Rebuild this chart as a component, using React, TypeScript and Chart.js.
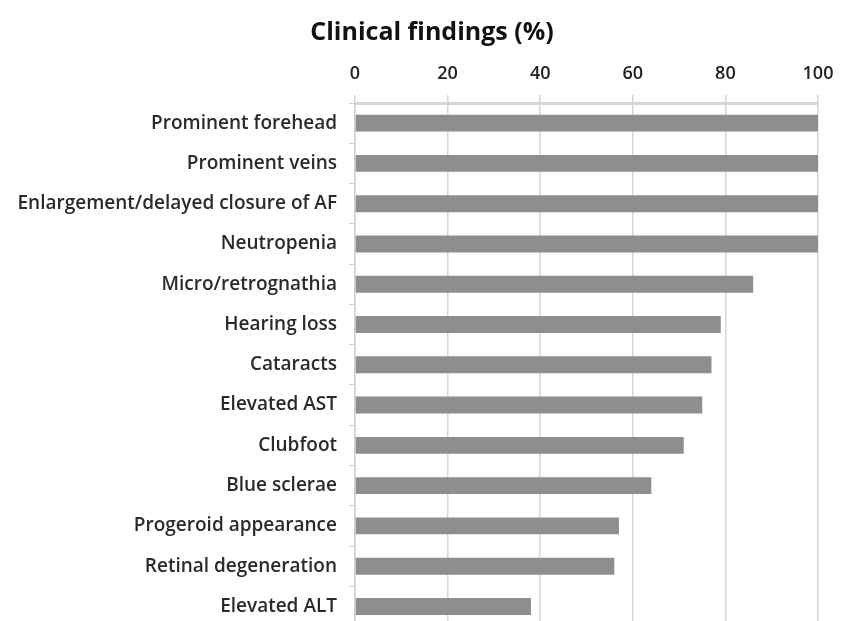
import React, { useEffect, useRef } from "react";
import { Chart, registerables } from "chart.js";

Chart.register(...registerables);

const categories = [
  "Prominent forehead",
  "Prominent veins",
  "Enlargement/delayed closure of AF",
  "Neutropenia",
  "Micro/retrognathia",
  "Hearing loss",
  "Cataracts",
  "Elevated AST",
  "Clubfoot",
  "Blue sclerae",
  "Progeroid appearance",
  "Retinal degeneration",
  "Elevated ALT",
];

const values = [100, 100, 100, 100, 86, 79, 77, 75, 71, 64, 57, 56, 38];

const xTicks = [0, 20, 40, 60, 80, 100];

const titleText = "Clinical findings (%)";

// let the long category labels use the left padding area instead of being clipped
const widenLabelArea = {
  id: "widenLabelArea",
  afterLayout(chart: any) {
    const y = chart.scales.y;
    if (y) y.left = 0;
  },
};

export default function App() {
  const ref = useRef<HTMLCanvasElement | null>(null);

  useEffect(() => {
    if (!ref.current) return;
    const chart = new Chart(ref.current, {
      type: "bar",
      data: {
        labels: categories,
        datasets: [
          {
            data: values,
            backgroundColor: "#8e8e8e",
            borderWidth: 0,
            categoryPercentage: 1,
            barPercentage: 0.42,
          },
        ],
      },
      options: {
        indexAxis: "y",
        animation: false,
        responsive: false,
        maintainAspectRatio: false,
        layout: { padding: { left: 46, right: 46, top: 0, bottom: 9 } },
        plugins: {
          legend: { display: false },
          tooltip: { enabled: false },
          title: {
            display: true,
            text: titleText,
            color: "#111111",
            font: { family: "Open Sans", size: 25, weight: "bold" },
            padding: { top: 18, bottom: 7 },
          },
        },
        scales: {
          x: {
            position: "top",
            min: 0,
            max: 100,
            afterBuildTicks: (scale: any) => {
              scale.ticks = xTicks.map((v) => ({ value: v }));
            },
            afterFit: (scale: any) => {
              scale.height = 48;
            },
            ticks: {
              color: "#222222",
              font: { family: "Open Sans", size: 18, weight: "600" },
              padding: 10,
            },
            grid: {
              color: "#d6d6d6",
              lineWidth: 1.5,
              tickLength: 8,
            },
            border: { display: true, color: "#d6d6d6", width: 3 },
          },
          y: {
            afterFit: (scale: any) => {
              scale.width = 309;
            },
            ticks: {
              color: "#2a2a2a",
              font: { family: "Open Sans", size: 19, weight: "600" },
              padding: 12,
            },
            grid: {
              drawOnChartArea: false,
              color: "#d0d0d0",
              tickLength: 6,
            },
            border: { display: true, color: "#d0d0d0", width: 1.5 },
          },
        },
      },
      plugins: [widenLabelArea],
    });
    return () => chart.destroy();
  }, []);

  return (
    <div style={{ position: "absolute", left: 0, top: 0, width: 864, height: 650 }}>
      <canvas ref={ref} width={864} height={650} style={{ width: 864, height: 650 }} />
    </div>
  );
}
